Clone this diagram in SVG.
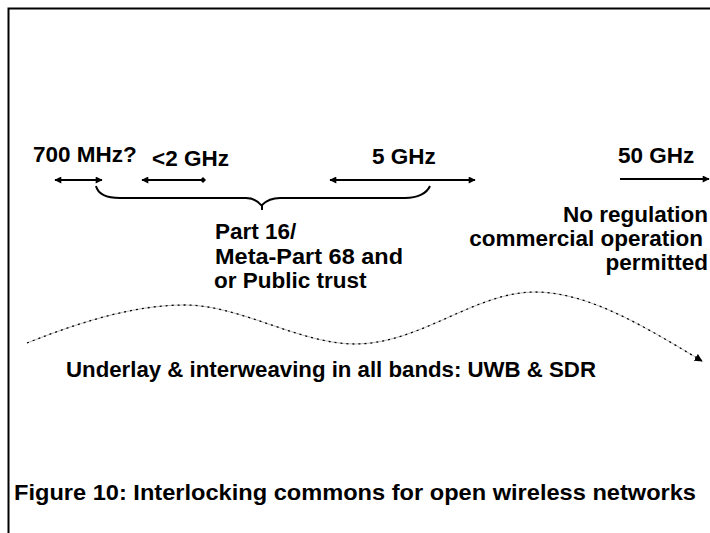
<svg xmlns="http://www.w3.org/2000/svg" width="710" height="533" viewBox="0 0 710 533">
<defs>
<style>
text{font-family:"Liberation Sans",Arial,sans-serif;font-weight:bold;font-size:22.5px;fill:#000}
.ln{stroke:#000;stroke-width:2;fill:none}
</style>
<marker id="ah" viewBox="0 0 10 10" refX="9" refY="5" markerWidth="8" markerHeight="7" markerUnits="userSpaceOnUse" orient="auto-start-reverse"><path d="M0,0L10,5L0,10z" fill="#000"/></marker>
<marker id="dm" viewBox="0 0 10 10" refX="5" refY="5" markerWidth="6" markerHeight="6" markerUnits="userSpaceOnUse"><path d="M5,0L10,5L5,10L0,5z" fill="#000"/></marker>
<marker id="ah2" viewBox="0 0 10 10" refX="9" refY="5" markerWidth="8" markerHeight="8" markerUnits="userSpaceOnUse" orient="auto"><path d="M0,0L10,5L0,10z" fill="#000"/></marker>
</defs>
<rect width="710" height="533" fill="#fff"/>
<path d="M8.5,533V8.5H710" stroke="#000" stroke-width="2" fill="none"/>
<g id="connectors">
<path class="ln" d="M55,180H102" marker-start="url(#ah)" marker-end="url(#ah)"/>
<path class="ln" d="M142,180H203" marker-start="url(#ah)" marker-end="url(#dm)"/>
<path class="ln" d="M330,180H475" marker-start="url(#ah)" marker-end="url(#ah)"/>
<path class="ln" d="M620,179H709" marker-end="url(#ah)"/>
<path class="ln" d="M96,186C98,194 106,198 120,198H246C252,198 258,201 262,206M262,210V205C266,201 272,198 280,198H405C418,198 427,193 430,186"/>
<path d="M27,343C90,318 140,305 185,305C240,305 300,344 355,344C420,344 475,292 535,292C590,292 650,330 702,361" stroke="#bbb" stroke-width="1" fill="none"/>
<path d="M27,343C90,318 140,305 185,305C240,305 300,344 355,344C420,344 475,292 535,292C590,292 650,330 702,361" stroke="#000" stroke-width="1.3" stroke-dasharray="2,4" fill="none" marker-end="url(#ah2)"/>
</g>
<g id="label-700"><text x="33" y="162">700 MHz?</text></g>
<g id="label-2ghz"><text x="152" y="166">&lt;2 GHz</text></g>
<g id="label-5ghz"><text x="372" y="164">5 GHz</text></g>
<g id="label-50ghz"><text x="618" y="163">50 GHz</text></g>
<g id="label-noreg">
<text x="708" y="222" text-anchor="end">No regulation</text>
<text x="703" y="246" text-anchor="end">commercial operation</text>
<text x="708" y="270" text-anchor="end">permitted</text>
</g>
<g id="label-part16">
<text x="215" y="239">Part 16/</text>
<text x="215" y="264" textLength="188" lengthAdjust="spacingAndGlyphs">Meta-Part 68 and</text>
<text x="214" y="288">or Public trust</text>
</g>
<g id="label-underlay"><text x="66" y="377" textLength="530" lengthAdjust="spacingAndGlyphs">Underlay &amp; interweaving in all bands: UWB &amp; SDR</text></g>
<g id="caption"><text x="14" y="500" textLength="682" lengthAdjust="spacingAndGlyphs" font-size="22">Figure 10: Interlocking commons for open wireless networks</text></g>
</svg>
